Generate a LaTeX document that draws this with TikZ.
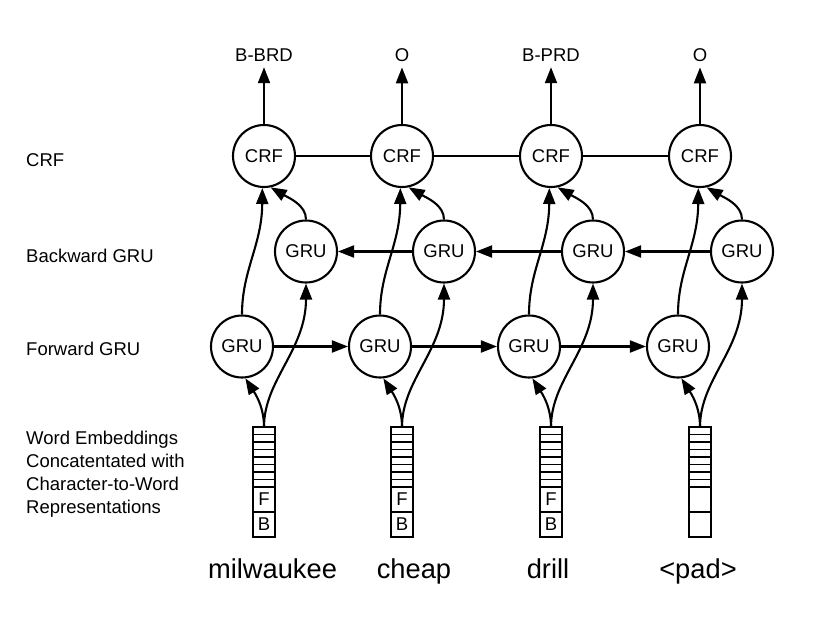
\documentclass[tikz,border=0pt]{standalone}
\usepackage{fontspec}
\setmainfont{Liberation Sans}
\usetikzlibrary{arrows.meta}
\begin{document}
\begin{tikzpicture}[x=1pt,y=-1pt,
  unit/.style={circle,draw,line width=2.1pt,minimum size=62pt,inner sep=0pt,font=\fontsize{18.5}{22}\selectfont},
  conn/.style={line width=2.1pt,-{Triangle[length=16pt,width=12pt]}},
  plainline/.style={line width=2.1pt},
  lbl/.style={font=\fontsize{18.5}{23}\selectfont,inner sep=0pt},
  word/.style={font=\fontsize{27.3}{30}\selectfont,inner sep=0pt,anchor=base},
  cell/.style={line width=1.9pt},
  celltext/.style={font=\fontsize{18.5}{22}\selectfont,inner sep=0pt}
]
\useasboundingbox (0,0) rectangle (828,622);

% left labels
\node[lbl,anchor=base west] (lcrf) at (26,166) {CRF};
\node[lbl,anchor=base west] (lbg) at (26,262) {Backward GRU};
\node[lbl,anchor=base west] (lfg) at (26,355) {Forward GRU};
\node[lbl,anchor=north west,align=left] (lwe) at (26,431)
  {Word Embeddings\\Concatentated with\\Character-to-Word\\Representations};

% columns
\foreach \i/\c/\o/\wx/\w in {1/264/B-BRD/272.5/milwaukee, 2/402/O/414/cheap, 3/551/B-PRD/548/drill, 4/700/O/698/<pad>}{
  \node[unit] (crf\i) at (\c,156) {CRF};
  \node[unit] (bg\i) at (\c+42,251.5) {GRU};
  \node[unit] (fg\i) at (\c-22,346.5) {GRU};
  \node[lbl,anchor=base] (out\i) at (\c,61) {\o};
  \draw[conn,shorten >=6pt] (crf\i.north) -- (out\i.south);
  % vector
  \coordinate (v\i) at (\c,427);
  \draw[cell] (\c-11,427) rectangle (\c+11,537);
  \foreach \k in {1,...,8}{
    \draw[cell] (\c-11,427+7.5*\k) -- (\c+11,427+7.5*\k);
  }
  \draw[cell] (\c-11,512) -- (\c+11,512);
  \node[word] (w\i) at (\wx,578) {\w};
  % connectors
  \draw[conn] (v\i) .. controls (\c,410) and (\c-6,398) .. (fg\i.-84);
  \draw[conn] (v\i) .. controls (\c,380) and (\c+42,350) .. (bg\i.south);
  \draw[conn] (fg\i.north) .. controls (\c-22,270) and (\c-2,245) .. (crf\i.-93);
  \draw[conn] (bg\i.north) .. controls (\c+42,205) and (\c+25,198) .. (crf\i.-78);
}
\node[celltext] (fl1) at (264,499.5) {F};
\node[celltext] (bl1) at (264,524.5) {B};
\node[celltext] (fl2) at (402,499.5) {F};
\node[celltext] (bl2) at (402,524.5) {B};
\node[celltext] (fl3) at (551,499.5) {F};
\node[celltext] (bl3) at (551,524.5) {B};

\foreach \i/\j in {1/2,2/3,3/4}{
  \draw[plainline] (crf\i.east) -- (crf\j.west);
  \draw[conn] (fg\i.east) -- (fg\j.west);
  \draw[conn] (bg\j.west) -- (bg\i.east);
}
\end{tikzpicture}
\end{document}
